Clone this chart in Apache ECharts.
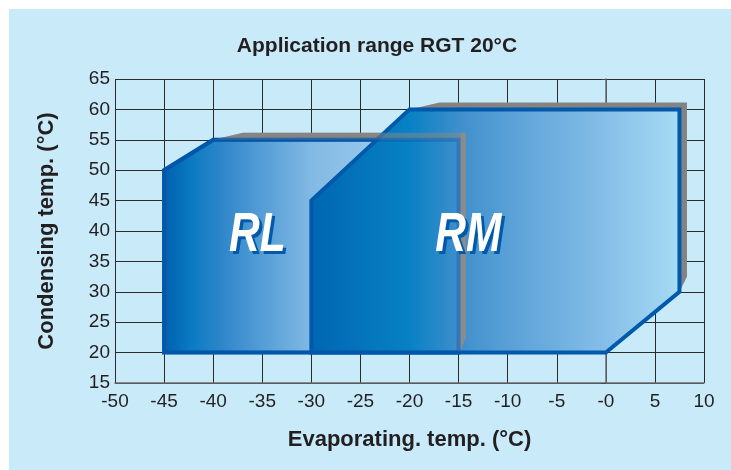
<!DOCTYPE html>
<html><head><meta charset="utf-8">
<script src="https://cdn.jsdelivr.net/npm/echarts@6/dist/echarts.min.js"></script>
<style>html,body{margin:0;padding:0;background:#fff}#c{width:731px;height:470px}</style>
</head><body><div id="c"></div>
<script>
// ---- data ----
const chartTitle = 'Application range RGT 20°C';
const xAxisName = 'Evaporating. temp. (°C)';
const yAxisName = 'Condensing temp. (°C)';
const xTickValues = [-50,-45,-40,-35,-30,-25,-20,-15,-10,-5,0,5,10];
const xTickLabels = ['-50','-45','-40','-35','-30','-25','-20','-15','-10','-5','-0','5','10'];
const yTickValues = [15,20,25,30,35,40,45,50,55,60,65];
const yTickLabels = ['15','20','25','30','35','40','45','50','55','60','65'];
const regionNames = ['RL','RM'];
const rlPolygon = [[-45,20],[-45,50],[-40,55],[-15,55],[-15,20]];
const rmPolygon = [[-30,20],[-30,45],[-20,60],[7.5,60],[7.5,30],[0,20]];
const regionLabelAt = [[-35.5,39.2],[-14,39.2]];

// ---- styles ----
const FONT = '"Liberation Sans", Arial, Helvetica, sans-serif';
const TXT = '#231f20';
const BORDER = '#0059aa';
const SHADOW = '#838383';
const DX = 7.5, DY = 7, SLANT = 30, TAPER = 15;
const rlStops = [[0,'#005ead'],[0.1,'#0a7bc2'],[0.2,'#2f86ca'],[0.5,'#82b9e4'],[1,'#b4dcf4']];
const rmStops = [[0,'#0066b2'],[0.27,'#0881c4'],[0.4,'#3e8ecc'],[0.55,'#5ca2d8'],[0.8,'#86bfe8'],[1,'#a8dcf4']];

function grad(stops){
  return {type:'linear',x:0,y:0,x2:1,y2:0,colorStops:stops.map(s=>({offset:s[0],color:s[1]}))};
}
function geom(api, poly){
  const pts = poly.map(p => api.coord(p));
  const topY = Math.min(...pts.map(p=>p[1]));
  const tops = pts.filter(p=>Math.abs(p[1]-topY)<0.5);
  const TL = tops.reduce((a,b)=>b[0]<a[0]?b:a);
  const TR = tops.reduce((a,b)=>b[0]>a[0]?b:a);
  const maxX = Math.max(...pts.map(p=>p[0]));
  const rights = pts.filter(p=>Math.abs(p[0]-maxX)<0.5);
  const RB = rights.reduce((a,b)=>b[1]>a[1]?b:a);
  const band = [TL,[TL[0]+SLANT,TL[1]-DY],[TR[0]+DX,TR[1]-DY],[RB[0]+DX,RB[1]-TAPER],RB,TR];
  const strip = [[TR[0]+2,TR[1]-DY],[TR[0]+DX,TR[1]-DY],[RB[0]+DX,RB[1]-TAPER],[RB[0]+2,RB[1]-2]];
  return {pts, band, strip};
}
function baseRender(poly, stops){
  return function(params, api){
    const g = geom(api, poly);
    return {type:'group', children:[
      {type:'polygon', shape:{points:g.band}, style:{fill:SHADOW}},
      {type:'polygon', shape:{points:g.pts}, style:{fill:grad(stops), stroke:BORDER, lineWidth:4, lineJoin:'miter'}}
    ]};
  };
}
function overlayRender(poly){
  return function(params, api){
    const g = geom(api, poly);
    return {type:'group', children:[
      {type:'polygon', shape:{points:g.band}, style:{fill:'rgba(135,135,135,0.5)'}},
      {type:'polygon', shape:{points:g.strip}, style:{fill:'rgba(140,140,140,0.85)'}},
      {type:'polygon', shape:{points:g.pts}, style:{fill:'none', stroke:'rgba(0,80,170,0.35)', lineWidth:4}}
    ]};
  };
}
function labelRender(params, api){
  const p = api.coord([api.value(0), api.value(1)]);
  const name = regionNames[params.dataIndex];
  const font = 'italic bold 56px ' + FONT;
  return {type:'group', children:[
    {type:'text', x:p[0]+3, y:p[1]+3, scaleX:0.76, style:{text:name, font, fill:BORDER, textAlign:'center', textVerticalAlign:'middle'}},
    {type:'text', x:p[0], y:p[1], scaleX:0.76, style:{text:name, font, fill:'#ffffff', textAlign:'center', textVerticalAlign:'middle'}}
  ]};
}

const chart = echarts.init(document.getElementById('c'), null, {renderer:'canvas'});
chart.setOption({
  animation:false,
  backgroundColor:'#ffffff',
  graphic:[
    {type:'rect', left:9, top:9, shape:{width:722, height:461}, style:{fill:'#c8eaf9'}, z:-10},
    {type:'text', x:377, y:46, style:{text:chartTitle, font:'bold 21px '+FONT, fill:TXT, textAlign:'center', textVerticalAlign:'middle'}, z:10}
  ],
  grid:{left:115, right:27, top:79, bottom:87, containLabel:false},
  xAxis:{
    type:'value', min:-50, max:10, interval:5,
    name:xAxisName, nameLocation:'middle', nameGap:46,
    nameTextStyle:{fontSize:22, fontWeight:'bold', color:TXT, fontFamily:FONT},
    axisLine:{show:true, onZero:false, lineStyle:{color:'#6b6b6b', width:1.5}},
    axisTick:{show:false},
    axisLabel:{fontSize:19, color:TXT, fontFamily:FONT, margin:9,
      formatter:v=>{const i=xTickValues.indexOf(v); return i>=0?xTickLabels[i]:String(v);}},
    splitLine:{show:true, lineStyle:{color:'#2a2a2a', width:1}}
  },
  yAxis:{
    type:'value', min:15, max:65, interval:5,
    name:yAxisName, nameLocation:'middle', nameGap:57, nameRotate:90,
    nameTextStyle:{fontSize:22, fontWeight:'bold', color:TXT, fontFamily:FONT},
    axisLine:{show:true, lineStyle:{color:'#6b6b6b', width:1.5}},
    axisTick:{show:true, length:4, lineStyle:{color:'#444'}},
    axisLabel:{fontSize:19, color:TXT, fontFamily:FONT, margin:5,
      formatter:v=>{const i=yTickValues.indexOf(v); return i>=0?yTickLabels[i]:String(v);}},
    splitLine:{show:true, lineStyle:{color:'#2a2a2a', width:1}}
  },
  series:[
    {type:'custom', name:'RL', z:2, clip:false, data:[rlPolygon[0]], encode:{x:0,y:1}, renderItem:baseRender(rlPolygon, rlStops), silent:true},
    {type:'custom', name:'RM', z:3, clip:false, data:[rmPolygon[0]], encode:{x:0,y:1}, renderItem:baseRender(rmPolygon, rmStops), silent:true},
    {type:'custom', name:'RL overlay', z:4, clip:false, data:[rlPolygon[0]], encode:{x:0,y:1}, renderItem:overlayRender(rlPolygon), silent:true},
    {type:'custom', name:'labels', z:5, clip:false, data:regionLabelAt, encode:{x:0,y:1}, renderItem:labelRender, silent:true}
  ]
});
</script></body></html>
